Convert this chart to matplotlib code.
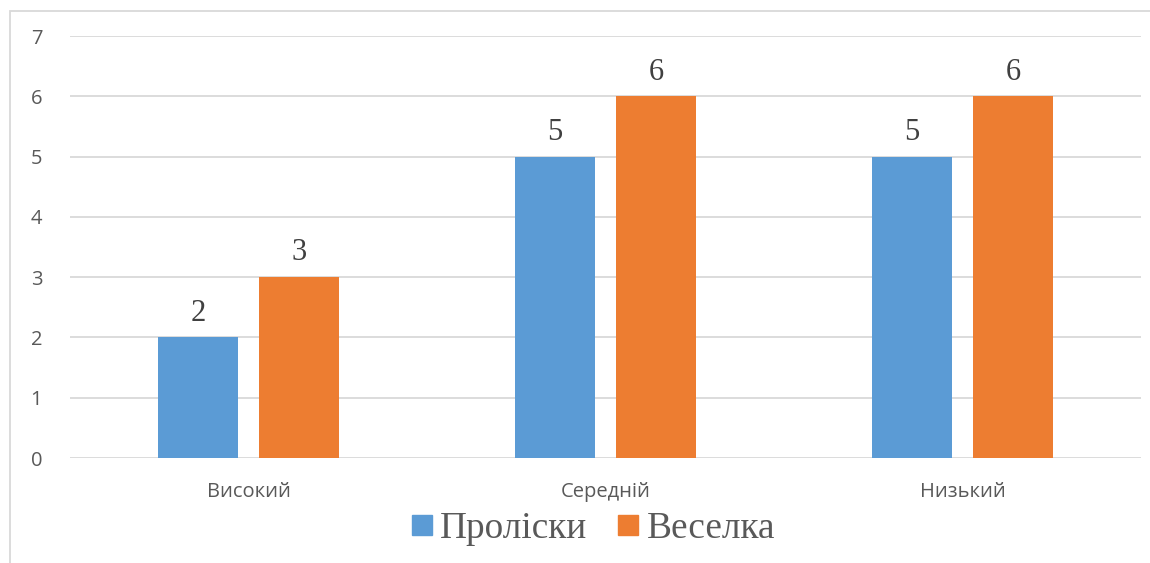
import matplotlib.pyplot as plt
from matplotlib.lines import Line2D
from matplotlib.patches import Rectangle
import numpy as np

categories = ["Високий", "Середній", "Низький"]
prolisky = [2, 5, 5]
veselka = [3, 6, 6]
series_names = ["Проліски", "Веселка"]

blue = "#5B9BD5"
orange = "#ED7D31"
text_grey = "#595959"
grid_grey = "#D9D9D9"

fig = plt.figure(figsize=(11.5, 5.63), dpi=100)
ax = fig.add_axes([70 / 1150, 1 - 458 / 563, 1071 / 1150, 422 / 563])

x = np.arange(len(categories)) + 0.5
w = 0.224
off = 0.142
b1 = ax.bar(x - off, prolisky, w, color=blue, zorder=3)
b2 = ax.bar(x + off, veselka, w, color=orange, zorder=3)

for bars in (b1, b2):
    ax.bar_label(bars, padding=7, fontsize=22, color="#404040",
                 family="Liberation Serif")

ax.set_xlim(0, 3)
ax.set_ylim(0, 7)
ax.set_yticks(range(8))
ax.set_xticks(x)
ax.set_xticklabels(categories)
ax.yaxis.grid(True, color=grid_grey, linewidth=1.3)
ax.set_axisbelow(True)
for s in ax.spines.values():
    s.set_visible(False)
ax.tick_params(length=0, labelsize=14.5, labelcolor=text_grey)
ax.tick_params(axis="y", pad=20)
ax.tick_params(axis="x", pad=17)
for lab in ax.get_xticklabels() + ax.get_yticklabels():
    lab.set_family("Open Sans")

# chart frame
fig.add_artist(Rectangle((10 / 1150, -0.05), 1.1, 1 - 11 / 563 + 0.05,
                         transform=fig.transFigure, fill=False,
                         edgecolor="#D9D9D9", linewidth=1.3))

handles = [Line2D([], [], marker="s", linestyle="none", markersize=14, color=blue),
           Line2D([], [], marker="s", linestyle="none", markersize=14, color=orange)]
fig.legend(handles, series_names, loc="center", bbox_to_anchor=(593 / 1150, 1 - 529 / 563),
           ncol=2, frameon=False, prop={"family": "Liberation Serif", "size": 26.8},
           labelcolor=text_grey, handlelength=0.6, handletextpad=0.2,
           columnspacing=0.8, borderpad=0)

fig.savefig("out.png", dpi=100)
